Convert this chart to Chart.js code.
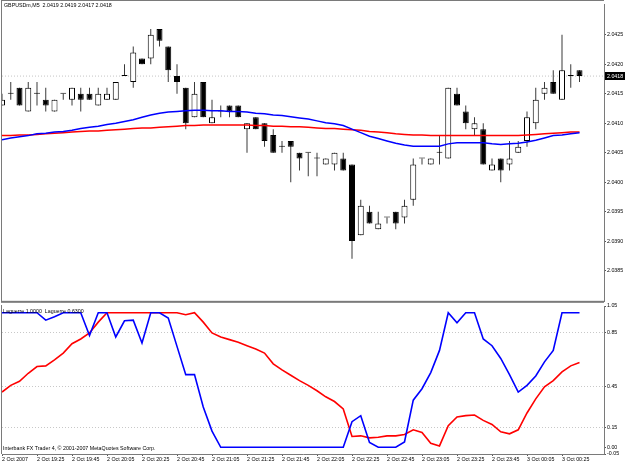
<!DOCTYPE html>
<html>
<head>
<meta charset="utf-8">
<script src="https://cdn.jsdelivr.net/npm/chart.js@4.4.0/dist/chart.umd.min.js"></script>
<style>
  html, body { margin: 0; padding: 0; background: #fff; }
  #wrap { position: relative; width: 625px; height: 463px; overflow: hidden; background: #fff; }
  canvas { position: absolute; left: 0; }
  #price { top: 0; }
  #osc { top: 299px; }
</style>
</head>
<body>
<div id="wrap">
  <canvas id="price" width="625" height="306"></canvas>
  <canvas id="osc" width="625" height="164"></canvas>
</div>
<script>
'use strict';

// GBPUSDm M5 bars, 2 Oct 2007 19:05 .. 3 Oct 00:35
let opens = [
  2.0413, 2.0415, 2.0416, 2.0412, 2.0415, 2.0414, 2.0412, 2.0415, 2.0414, 2.0415,
  2.0415, 2.0413, 2.0414, 2.0414, 2.0418, 2.0417, 2.0421, 2.0421, 2.0426, 2.0423,
  2.0418, 2.0416, 2.0411, 2.0417, 2.0410, 2.0412, 2.0413, 2.0413, 2.0409, 2.0411,
  2.0410, 2.0408, 2.0406, 2.0407, 2.0405, 2.0405, 2.0404, 2.0403, 2.0403, 2.0404,
  2.0403, 2.0391, 2.0395, 2.0392, 2.0394, 2.0395, 2.0394, 2.0397, 2.0404, 2.0403,
  2.0405, 2.0404, 2.0415, 2.0412, 2.0409, 2.0409, 2.0402, 2.0404, 2.0403, 2.0405,
  2.0407, 2.0410, 2.0415, 2.0417, 2.0414, 2.0418, 2.0419
];
let highs = [
  2.0415, 2.0417, 2.0416, 2.0417, 2.0417, 2.0416, 2.0414, 2.0415, 2.0416, 2.0416,
  2.0416, 2.0416, 2.0416, 2.0417, 2.0420, 2.0423, 2.0421, 2.0426, 2.0426, 2.0423,
  2.0420, 2.0416, 2.0417, 2.0417, 2.0414, 2.0413, 2.0413, 2.0413, 2.0410, 2.0411,
  2.0410, 2.0409, 2.0407, 2.0407, 2.0405, 2.0405, 2.0405, 2.0404, 2.0405, 2.0405,
  2.0403, 2.0397, 2.0396, 2.0395, 2.0394, 2.0395, 2.0397, 2.0404, 2.0404, 2.0404,
  2.0408, 2.0416, 2.0416, 2.0413, 2.0411, 2.0410, 2.0404, 2.0404, 2.0407, 2.0407,
  2.0412, 2.0416, 2.0417, 2.0419, 2.0425, 2.0420, 2.0419
];
let lows = [
  2.0413, 2.0414, 2.0413, 2.0412, 2.0413, 2.0412, 2.0412, 2.0414, 2.0413, 2.0412,
  2.0414, 2.0413, 2.0414, 2.0414, 2.0418, 2.0416, 2.0420, 2.0420, 2.0423, 2.0417,
  2.0415, 2.0409, 2.0411, 2.0411, 2.0410, 2.0411, 2.0411, 2.0411, 2.0405, 2.0409,
  2.0406, 2.0405, 2.0405, 2.0400, 2.0402, 2.0401, 2.0401, 2.0403, 2.0402, 2.0402,
  2.0387, 2.0391, 2.0393, 2.0392, 2.0393, 2.0392, 2.0393, 2.0396, 2.0403, 2.0403,
  2.0403, 2.0404, 2.0413, 2.0409, 2.0408, 2.0403, 2.0402, 2.0400, 2.0402, 2.0405,
  2.0406, 2.0409, 2.0414, 2.0415, 2.0414, 2.0416, 2.0417
];
let closes = [
  2.0414, 2.0415, 2.0413, 2.0416, 2.0415, 2.0413, 2.0414, 2.0415, 2.0416, 2.0414,
  2.0414, 2.0415, 2.0415, 2.0417, 2.0418, 2.0422, 2.0420, 2.0425, 2.0424, 2.0419,
  2.0417, 2.0410, 2.0415, 2.0411, 2.0411, 2.0412, 2.0412, 2.0411, 2.0410, 2.0409,
  2.0407, 2.0405, 2.0406, 2.0406, 2.0404, 2.0405, 2.0404, 2.0404, 2.0405, 2.0402,
  2.0390, 2.0396, 2.0393, 2.0393, 2.0394, 2.0393, 2.0396, 2.0403, 2.0404, 2.0404,
  2.0405, 2.0416, 2.0413, 2.0410, 2.0410, 2.0403, 2.0403, 2.0402, 2.0404, 2.0406,
  2.0411, 2.0414, 2.0416, 2.0415, 2.0419, 2.0418, 2.0418
];

// moving averages on the price panel
let maBlue = [
  2.04072, 2.04075, 2.04077, 2.04079, 2.04082, 2.04083, 2.04085, 2.04086, 2.04088, 2.04091,
  2.04093, 2.04095, 2.04098, 2.04100, 2.04103, 2.04106, 2.04110, 2.04114, 2.04117, 2.04119,
  2.04120, 2.04121, 2.04122, 2.04122, 2.04121, 2.04121, 2.04120, 2.04120, 2.04119, 2.04117,
  2.04116, 2.04114, 2.04113, 2.04111, 2.04109, 2.04107, 2.04104, 2.04101, 2.04099, 2.04096,
  2.04090, 2.04084, 2.04078, 2.04074, 2.04070, 2.04066, 2.04063, 2.04061, 2.04061, 2.04061,
  2.04061, 2.04065, 2.04067, 2.04067, 2.04067, 2.04067, 2.04065, 2.04064, 2.04065, 2.04066,
  2.04068, 2.04071, 2.04075, 2.04079, 2.04080, 2.04082, 2.04084
];
let maRed = [
  2.04079, 2.04079, 2.04080, 2.04080, 2.04081, 2.04082, 2.04083, 2.04084, 2.04085, 2.04086,
  2.04087, 2.04087, 2.04088, 2.04089, 2.04090, 2.04091, 2.04092, 2.04092, 2.04093, 2.04094,
  2.04095, 2.04096, 2.04096, 2.04097, 2.04097, 2.04097, 2.04097, 2.04097, 2.04097, 2.04096,
  2.04096, 2.04095, 2.04095, 2.04094, 2.04094, 2.04093, 2.04092, 2.04091, 2.04091, 2.04090,
  2.04089, 2.04088, 2.04086, 2.04085, 2.04084, 2.04082, 2.04081, 2.04080, 2.04080, 2.04079,
  2.04079, 2.04079, 2.04079, 2.04079, 2.04079, 2.04079, 2.04079, 2.04079, 2.04079, 2.04079,
  2.04080, 2.04081, 2.04082, 2.04083, 2.04084, 2.04085, 2.04085
];

// Laguerre oscillators on the lower panel
let lagFast = [
  1.00, 1.00, 1.00, 1.00, 1.00, 0.945, 0.97, 1.00, 1.00, 1.00,
  0.83, 1.00, 1.00, 0.82, 0.94, 0.945, 0.775, 1.00, 1.00, 0.96,
  0.75, 0.54, 0.54, 0.30, 0.12, 0.00, 0.00, 0.00, 0.00, 0.00,
  0.00, 0.00, 0.00, 0.00, 0.00, 0.00, 0.00, 0.00, 0.00, 0.00,
  0.19, 0.235, 0.035, 0.00, 0.00, 0.00, 0.04, 0.35, 0.435, 0.555,
  0.72, 1.00, 0.925, 1.00, 1.00, 0.805, 0.755, 0.66, 0.54, 0.41,
  0.46, 0.53, 0.635, 0.72, 1.00, 1.00, 1.00
];
let lagSlow = [
  0.41, 0.46, 0.49, 0.55, 0.60, 0.605, 0.65, 0.70, 0.77, 0.805,
  0.85, 0.93, 1.00, 1.00, 1.00, 1.00, 1.00, 1.00, 1.00, 1.00,
  1.00, 0.985, 1.00, 0.93, 0.85, 0.82, 0.80, 0.78, 0.755, 0.73,
  0.70, 0.62, 0.575, 0.535, 0.495, 0.46, 0.42, 0.375, 0.34, 0.285,
  0.08, 0.085, 0.07, 0.075, 0.085, 0.085, 0.095, 0.13, 0.11, 0.03,
  0.01, 0.16, 0.225, 0.235, 0.24, 0.20, 0.17, 0.115, 0.10, 0.13,
  0.255, 0.36, 0.45, 0.495, 0.56, 0.605, 0.63
];

// axis labels
let timeLabels = [
  '2 Oct 2007', '2 Oct 19:25', '2 Oct 19:45', '2 Oct 20:05', '2 Oct 20:25', '2 Oct 20:45',
  '2 Oct 21:05', '2 Oct 21:25', '2 Oct 21:45', '2 Oct 22:05', '2 Oct 22:25', '2 Oct 22:45',
  '2 Oct 23:05', '2 Oct 23:25', '2 Oct 23:45', '3 Oct 00:05', '3 Oct 00:25'
];
let priceTicks = [2.0385, 2.0390, 2.0395, 2.0400, 2.0405, 2.0410, 2.0415, 2.0420, 2.0425];
let lagTicks = [1.05, 0.85, 0.45, 0.15, 0.00, -0.05];
let lagGrid = [0.85, 0.45, 0.15];

let barsPerLabel = 4;
let xMax = 68.8;
let last = closes.length - 1;
let lastClose = closes[last];

let fontFamily = "'Liberation Sans', Arial, sans-serif";
let fontSize = 5.3;
Chart.defaults.font.family = fontFamily;
Chart.defaults.font.size = fontSize;
Chart.defaults.color = '#000';

let frameColor = '#7a7a7a';

function renderPriceChart() {
  let canvasElem = document.getElementById('price');
  let wickData = [];
  let bodyData = [];
  let bodyColors = [];
  for (let i = 0; i < closes.length; i++) {
    wickData.push({x: i, y: [lows[i], highs[i]]});
    bodyData.push({x: i, y: [opens[i], closes[i]]});
    bodyColors.push(closes[i] > opens[i] ? '#ffffff' : '#000000');
  }
  let titleText = 'GBPUSDm,M5  ' + [opens[last], highs[last], lows[last], closes[last]]
    .map(v => v.toFixed(4)).join(' ');

  let decor = {
    id: 'priceDecor',
    afterDraw(chart) {
      let ctx = chart.ctx;
      let a = chart.chartArea;
      let y = chart.scales.y;
      ctx.save();
      ctx.fillStyle = frameColor;
      ctx.fillRect(1, 0, a.right - 1, 1);
      ctx.fillRect(1, 0, 1, a.bottom);
      ctx.fillRect(1, a.bottom - 1, a.right - 1, 2);
      ctx.font = fontSize + 'px ' + fontFamily;
      ctx.textBaseline = 'middle';
      ctx.fillStyle = '#000';
      ctx.fillText(titleText, 4, 6);
      let py = Math.round(y.getPixelForValue(lastClose));
      ctx.fillRect(a.right + 1, py - 4, 20, 8);
      ctx.fillStyle = '#fff';
      ctx.fillText(lastClose.toFixed(4), a.right + 3, py + 0.5);
      ctx.restore();
    }
  };

  let config = {
    type: 'bar',
    data: {
      datasets: [
        {
          type: 'line',
          data: maBlue.map((v, i) => ({x: i, y: v})),
          borderColor: '#0000ff',
          borderWidth: 1.5,
          pointRadius: 0,
          tension: 0,
          order: 0
        },
        {
          type: 'line',
          data: maRed.map((v, i) => ({x: i, y: v})),
          borderColor: '#ff0000',
          borderWidth: 1.5,
          pointRadius: 0,
          tension: 0,
          order: 0
        },
        {
          data: bodyData,
          backgroundColor: bodyColors,
          borderColor: '#000',
          borderWidth: 1,
          borderSkipped: false,
          barThickness: 6,
          minBarLength: 1,
          inflateAmount: 0,
          grouped: false,
          order: 1
        },
        {
          data: wickData,
          backgroundColor: '#3a3a3a',
          borderWidth: 0,
          barThickness: 1,
          inflateAmount: 0,
          grouped: false,
          order: 2
        },
        {
          type: 'line',
          data: [{x: 0, y: lastClose}, {x: xMax, y: lastClose}],
          borderColor: '#c4c4c4',
          borderDash: [1, 2],
          borderWidth: 1,
          pointRadius: 0,
          order: 3
        }
      ]
    },
    options: {
      responsive: false,
      animation: false,
      devicePixelRatio: 1,
      layout: { padding: { left: 2, top: 1, right: 0, bottom: 1 } },
      plugins: { legend: { display: false }, tooltip: { enabled: false } },
      scales: {
        x: {
          type: 'linear',
          min: 0,
          max: xMax,
          offset: false,
          display: false,
          grid: { offset: false }
        },
        y: {
          position: 'right',
          min: 2.03797,
          max: 2.04302,
          afterFit: (s) => { s.width = 21; },
          afterBuildTicks: (s) => { s.ticks = priceTicks.map(v => ({value: v})); },
          ticks: {
            callback: (v) => v.toFixed(4),
            padding: 1,
            autoSkip: false,
            color: '#000'
          },
          grid: { drawOnChartArea: false, tickLength: 2, tickColor: '#555' },
          border: { color: frameColor, width: 1 }
        }
      }
    },
    plugins: [decor]
  };
  new Chart(canvasElem, config);
}

function renderOscChart() {
  let canvasElem = document.getElementById('osc');
  let lagText = 'Laguerre ' + lagFast[last].toFixed(4) + '  Laguerre ' + lagSlow[last].toFixed(4);

  let decor = {
    id: 'oscDecor',
    afterDraw(chart) {
      let ctx = chart.ctx;
      let a = chart.chartArea;
      ctx.save();
      ctx.fillStyle = frameColor;
      ctx.fillRect(1, a.top - 1, 1, a.bottom - a.top + 1);
      ctx.font = fontSize + 'px ' + fontFamily;
      ctx.textBaseline = 'middle';
      ctx.fillStyle = '#000';
      ctx.fillText(lagText, 3, a.top + 6);
      ctx.fillText('Interbank FX Trader 4, \u00a9 2001-2007 MetaQuotes Software Corp.', 3, a.bottom - 5);
      ctx.restore();
    }
  };

  let config = {
    type: 'line',
    data: {
      datasets: [
        {
          data: lagFast.map((v, i) => ({x: i, y: v})),
          borderColor: '#0000ff',
          borderWidth: 1.6,
          pointRadius: 0,
          tension: 0
        },
        {
          data: lagSlow.map((v, i) => ({x: i, y: v})),
          borderColor: '#ff0000',
          borderWidth: 1.6,
          pointRadius: 0,
          tension: 0
        }
      ]
    },
    options: {
      responsive: false,
      animation: false,
      devicePixelRatio: 1,
      layout: { padding: { left: 2, top: 7, right: 0, bottom: 0 } },
      plugins: { legend: { display: false }, tooltip: { enabled: false } },
      scales: {
        x: {
          type: 'linear',
          min: 0,
          max: xMax,
          offset: false,
          afterFit: (s) => { s.height = 9; },
          afterBuildTicks: (s) => {
            s.ticks = timeLabels.map((t, k) => ({value: k * barsPerLabel}));
          },
          ticks: {
            callback: (v, k) => timeLabels[k],
            align: 'start',
            autoSkip: false,
            maxRotation: 0,
            padding: 0,
            color: '#000'
          },
          grid: { drawOnChartArea: false, tickLength: 2, tickColor: '#555' },
          border: { color: frameColor, width: 1 }
        },
        y: {
          position: 'right',
          min: -0.05,
          max: 1.05,
          afterFit: (s) => { s.width = 21; },
          afterBuildTicks: (s) => { s.ticks = lagTicks.map(v => ({value: v})); },
          ticks: {
            callback: (v) => v.toFixed(2),
            padding: 1,
            autoSkip: false,
            color: '#000'
          },
          grid: {
            color: (c) => (c.tick && lagGrid.includes(c.tick.value)) ? '#c8c8c8' : 'rgba(0,0,0,0)',
            tickColor: '#555',
            tickLength: 2
          },
          border: { color: frameColor, width: 1, dash: [1, 2] }
        }
      }
    },
    plugins: [decor]
  };
  new Chart(canvasElem, config);
}

renderPriceChart();
renderOscChart();
</script>
</body>
</html>
